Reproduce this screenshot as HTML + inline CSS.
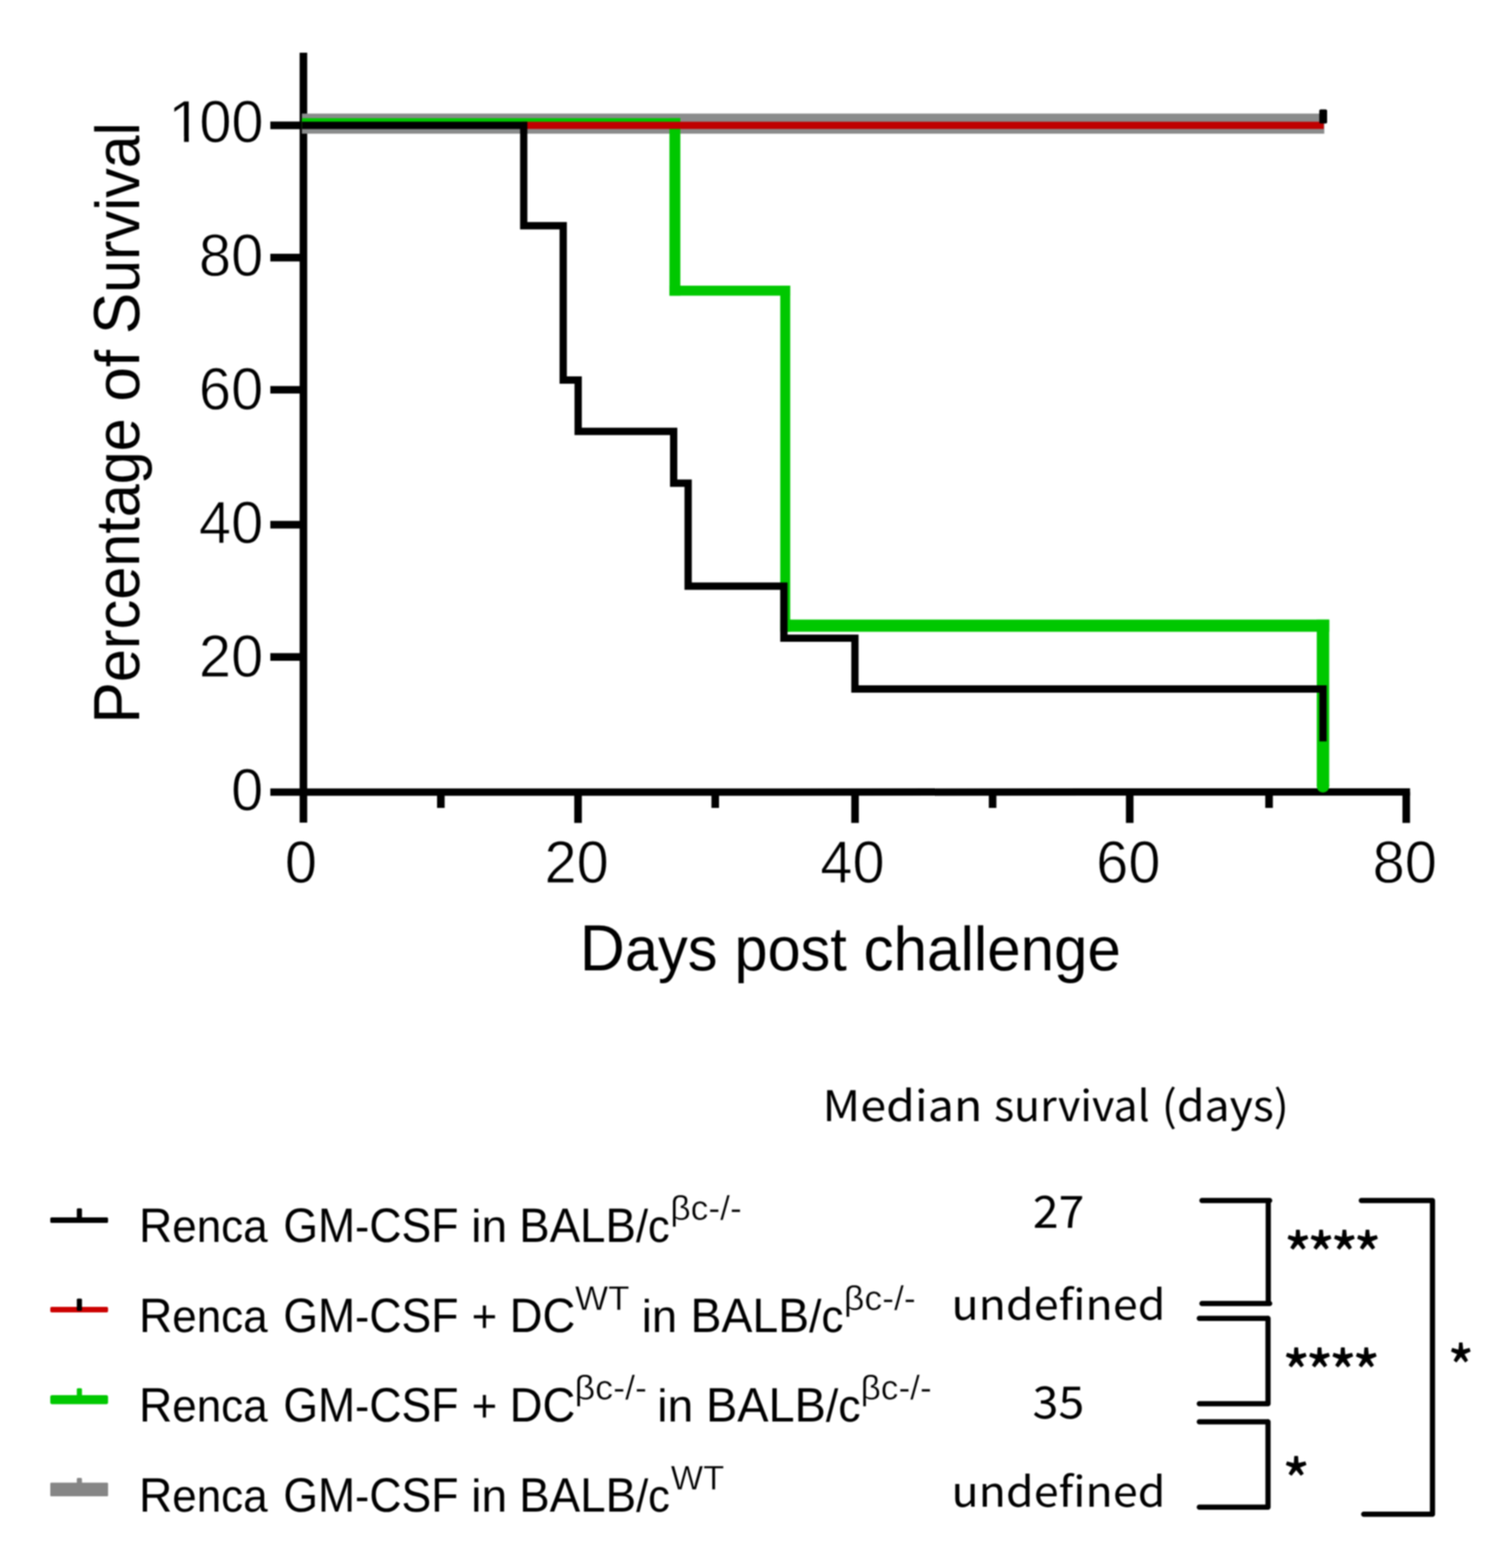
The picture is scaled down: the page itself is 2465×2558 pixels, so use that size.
<!DOCTYPE html>
<html lang="en">
<head>
<meta charset="utf-8">
<title>Kaplan-Meier survival: Renca GM-CSF challenge</title>
<style>
html,body{margin:0;padding:0;background:#fff;}
body{width:2465px;height:2558px;overflow:hidden;font-family:"Liberation Sans",sans-serif;}
svg{display:block;}
.sh{filter:blur(0.8px);}
.tx{filter:blur(1.2px);}
</style>
</head>
<body>
<svg width="2465" height="2558" viewBox="0 0 2465 2558">
<defs><clipPath id="c1"><path d="M-5 -71.56H57.25V-9.54H32.60V5H25.17V-9.54H-5Z"/></clipPath></defs>
<rect width="2465" height="2558" fill="#fff"/>
<g class="sh">
<g fill="none" stroke="#000" stroke-width="12.4"><path d="M495 86V1342"/><path d="M441 1292.3L2300.3 1292.0" stroke-width="12"/><path d="M441 204.5H496"/><path d="M441 420.2H496"/><path d="M441 635.9H496"/><path d="M441 856.0H496"/><path d="M441 1071.8H496"/><path d="M943.0 1292V1342.5"/><path d="M1394.9 1292V1342.5"/><path d="M1843.0 1292V1342.5"/><path d="M2294.1 1292V1342.5"/><path d="M719.2 1292V1318"/><path d="M1166.8 1292V1318"/><path d="M1619.3 1292V1318"/><path d="M2070.3 1292V1318"/></g>
<g>
<rect x="492.5" y="185.3" width="1667.9" height="32.8" fill="#8a8c8c"/>
<rect x="492.5" y="192.75" width="617.4" height="16.3" fill="#00c800"/>
<rect x="1092.10" y="192.8" width="17.8" height="289.5" fill="#00c800"/>
<rect x="1092.1" y="466.05" width="197.0" height="16.3" fill="#00c800"/>
<rect x="1272.85" y="466.1" width="16.3" height="564.5" fill="#00c800"/>
<rect x="1272.9" y="1010.75" width="895.5" height="19.9" fill="#00c800"/>
<rect x="2148.15" y="1010.8" width="20.3" height="272.2" fill="#00c800"/>
<circle cx="2158.3" cy="1282.8" r="10.15" fill="#00c800"/>
<rect x="852" y="198.6" width="1307.6" height="11.8" fill="#c00000"/>
<path d="M492.5 204.5H854.4V368.2H918.8V620H943.2V703.8H1099V788.2H1122.6V956.2H1278.8V1041.1H1394.7V1124H2158.3V1209.4" fill="none" stroke="#000" stroke-width="11.9"/>
<rect x="2152.2" y="178.4" width="12.8" height="23" rx="2.5" fill="#000"/>
</g>
<g><rect x="82.0" y="1985.90" width="94.3" height="9.2" rx="2.2" fill="#000"/><rect x="125.30" y="1971.2" width="8.4" height="20.8" rx="1.8" fill="#000"/><rect x="82.0" y="2132.00" width="94.3" height="9.0" rx="2.2" fill="#cc0000"/><rect x="125.30" y="2118.5" width="8.4" height="20.1" rx="1.8" fill="#000"/><rect x="82.0" y="2276.00" width="94.3" height="14.8" rx="3" fill="#00c800"/><rect x="125.30" y="2264.7" width="8.4" height="15.3" rx="1.8" fill="#00c800"/><rect x="82.0" y="2418.65" width="94.3" height="22.3" rx="1.5" fill="#868686"/><rect x="125.30" y="2411.1" width="8.4" height="10.9" rx="1.8" fill="#868686"/></g>
<g fill="none" stroke="#000" stroke-width="8.5" stroke-linecap="round" stroke-linejoin="round"><path d="M1960.8 1958.6H2071.3M2069.0 1958.6V2126.5M1960.8 2126.5H2071.3"/><path d="M1956.5 2150.8H2068.3M2068.6 2150.8V2290.0M1956.5 2290.0H2068.3"/><path d="M1956.5 2319.6H2068.3M2068.6 2319.6V2458.7M1956.5 2458.7H2068.3"/><path d="M2220.8 1958.6H2336.9M2336.9 1958.6V2470.3M2224.7 2470.3H2336.9"/></g>
</g>
<g class="tx" font-family="'Liberation Sans',sans-serif" fill="#000" text-rendering="geometricPrecision">
<text transform="matrix(1.0396 0 0 1 274.11 231.75)" font-size="97.7" clip-path="url(#c1)" stroke="#fff" stroke-width="1.2">1</text><text transform="matrix(0.9646 0 0 1 325.14 231.75)" font-size="97.7" stroke="#fff" stroke-width="1.2">00</text>
<text transform="matrix(0.9650 0 0 1 324.50 450.15)" font-size="97.7" stroke="#fff" stroke-width="1.2">80</text>
<text transform="matrix(0.9650 0 0 1 324.50 668.05)" font-size="97.7" stroke="#fff" stroke-width="1.2">60</text>
<text transform="matrix(0.9650 0 0 1 324.50 886.15)" font-size="97.7" stroke="#fff" stroke-width="1.2">40</text>
<text transform="matrix(0.9650 0 0 1 324.50 1104.05)" font-size="97.7" stroke="#fff" stroke-width="1.2">20</text>
<text transform="matrix(0.9650 0 0 1 376.93 1321.85)" font-size="97.7" stroke="#fff" stroke-width="1.2">0</text>
<text transform="matrix(0.9650 0 0 1 464.78 1439.60)" font-size="97.7" stroke="#fff" stroke-width="1.2">0</text>
<text transform="matrix(0.9650 0 0 1 888.34 1439.60)" font-size="97.7" stroke="#fff" stroke-width="1.2">20</text>
<text transform="matrix(0.9650 0 0 1 1338.33 1439.60)" font-size="97.7" stroke="#fff" stroke-width="1.2">40</text>
<text transform="matrix(0.9650 0 0 1 1788.31 1439.60)" font-size="97.7" stroke="#fff" stroke-width="1.2">60</text>
<text transform="matrix(0.9650 0 0 1 2239.36 1439.60)" font-size="97.7" stroke="#fff" stroke-width="1.2">80</text>
<text transform="matrix(0.9564 0 0 1 945.84 1583.40)" font-size="101.5"><tspan style="font-size:1.05em">D</tspan>ays</text>
<text transform="matrix(0.9537 0 0 1 1198.34 1583.40)" font-size="101.5">post</text>
<text transform="matrix(0.9659 0 0 1 1408.83 1583.40)" font-size="101.5">challenge</text>
<text transform="matrix(0 -0.9533 1 0 226.60 1180.53)" font-size="101.5"><tspan style="font-size:1.05em">P</tspan>ercentage</text>
<text transform="matrix(0 -0.9996 1 0 226.60 655.36)" font-size="101.5">of</text>
<text transform="matrix(0 -0.9481 1 0 226.60 545.04)" font-size="101.5"><tspan style="font-size:1.05em">S</tspan>urvival</text>
<text transform="matrix(0.9561 0 0 1 226.72 2025.80)" font-size="75"><tspan style="font-size:1.05em">R</tspan>enca</text>
<text transform="matrix(0.9238 0 0 1 462.14 2025.80)" font-size="75"><tspan style="font-size:1.05em">GM</tspan>-<tspan style="font-size:1.05em">CSF</tspan></text>
<text transform="matrix(1.0023 0 0 1 768.87 2025.80)" font-size="75">in</text>
<text transform="matrix(0.9456 0 0 1 846.99 2025.80)" font-size="75"><tspan style="font-size:1.05em">BALB</tspan>/c</text>
<text transform="matrix(1.0302 0 0 1 1093.48 1990.00)" font-size="56.1" stroke="#fff" stroke-width="0.6">βc-/-</text>
<text transform="matrix(0.9561 0 0 1 226.72 2173.10)" font-size="75"><tspan style="font-size:1.05em">R</tspan>enca</text>
<text transform="matrix(0.9238 0 0 1 462.14 2173.10)" font-size="75"><tspan style="font-size:1.05em">GM</tspan>-<tspan style="font-size:1.05em">CSF</tspan></text>
<text transform="matrix(0.9495 0 0 1 769.52 2173.10)" font-size="75">+</text>
<text transform="matrix(0.9414 0 0 1 831.52 2173.10)" font-size="75"><tspan style="font-size:1.05em">DC</tspan></text>
<text transform="matrix(1.0228 0 0 1 937.91 2137.30)" font-size="56.1" stroke="#fff" stroke-width="0.6">WT</text>
<text transform="matrix(0.9838 0 0 1 1047.06 2173.10)" font-size="75">in</text>
<text transform="matrix(0.9604 0 0 1 1126.60 2173.10)" font-size="75"><tspan style="font-size:1.05em">BALB</tspan>/c</text>
<text transform="matrix(1.0331 0 0 1 1376.87 2137.30)" font-size="56.1" stroke="#fff" stroke-width="0.6">βc-/-</text>
<text transform="matrix(0.9561 0 0 1 226.72 2318.60)" font-size="75"><tspan style="font-size:1.05em">R</tspan>enca</text>
<text transform="matrix(0.9238 0 0 1 462.14 2318.60)" font-size="75"><tspan style="font-size:1.05em">GM</tspan>-<tspan style="font-size:1.05em">CSF</tspan></text>
<text transform="matrix(0.9495 0 0 1 769.52 2318.60)" font-size="75">+</text>
<text transform="matrix(0.9414 0 0 1 831.52 2318.60)" font-size="75"><tspan style="font-size:1.05em">DC</tspan></text>
<text transform="matrix(1.0425 0 0 1 937.33 2282.80)" font-size="56.1" stroke="#fff" stroke-width="0.6">βc-/-</text>
<text transform="matrix(1.0044 0 0 1 1072.26 2318.60)" font-size="75">in</text>
<text transform="matrix(0.9715 0 0 1 1151.72 2318.60)" font-size="75"><tspan style="font-size:1.05em">BALB</tspan>/c</text>
<text transform="matrix(1.0218 0 0 1 1404.12 2282.80)" font-size="56.1" stroke="#fff" stroke-width="0.6">βc-/-</text>
<text transform="matrix(0.9561 0 0 1 226.72 2466.00)" font-size="75"><tspan style="font-size:1.05em">R</tspan>enca</text>
<text transform="matrix(0.9238 0 0 1 462.14 2466.00)" font-size="75"><tspan style="font-size:1.05em">GM</tspan>-<tspan style="font-size:1.05em">CSF</tspan></text>
<text transform="matrix(1.0023 0 0 1 768.87 2466.00)" font-size="75">in</text>
<text transform="matrix(0.9468 0 0 1 846.98 2466.00)" font-size="75"><tspan style="font-size:1.05em">BALB</tspan>/c</text>
<text transform="matrix(0.9981 0 0 1 1094.33 2430.20)" font-size="56.1" stroke="#fff" stroke-width="0.6">WT</text>
<text transform="matrix(1.1001 0 0 1 1341.83 1829.20)" font-size="69" font-family="'Noto Sans CJK JP','Liberation Sans',sans-serif">Median</text>
<text transform="matrix(1.0133 0 0 1 1621.63 1829.20)" font-size="69" font-family="'Noto Sans CJK JP','Liberation Sans',sans-serif">survival</text>
<text transform="matrix(1.0554 0 0 1 1895.30 1829.20)" font-size="69" font-family="'Noto Sans CJK JP','Liberation Sans',sans-serif">(days)</text>
<text transform="matrix(1.0402 0 0 1 1685.12 2002.60)" font-size="72.6" font-family="'Noto Sans CJK JP','Liberation Sans',sans-serif">27</text>
<text transform="matrix(1.0750 0 0 1 1552.16 2153.30)" font-size="68" font-family="'Noto Sans CJK JP','Liberation Sans',sans-serif">undefined</text>
<text transform="matrix(1.0445 0 0 1 1684.55 2314.20)" font-size="72.6" font-family="'Noto Sans CJK JP','Liberation Sans',sans-serif">35</text>
<text transform="matrix(1.0750 0 0 1 1552.16 2457.90)" font-size="68" font-family="'Noto Sans CJK JP','Liberation Sans',sans-serif">undefined</text>
<text x="2094.65 2132.51 2170.38 2208.25" y="2084.19" font-size="97.26" font-family="'Noto Sans CJK JP','Liberation Sans',sans-serif" stroke="#000" stroke-width="0.9" stroke-linejoin="round">****</text>
<text x="2091.95 2130.01 2168.08 2206.15" y="2276.29" font-size="97.26" font-family="'Noto Sans CJK JP','Liberation Sans',sans-serif" stroke="#000" stroke-width="0.9" stroke-linejoin="round">****</text>
<text transform="matrix(1.0099 0 0 1 2091.99 2451.56)" font-size="95.72" font-family="'Noto Sans CJK JP','Liberation Sans',sans-serif" stroke="#000" stroke-width="0.9" stroke-linejoin="round">*</text>
<text transform="matrix(0.9448 0 0 1 2361.80 2268.29)" font-size="97.26" font-family="'Noto Sans CJK JP','Liberation Sans',sans-serif" stroke="#000" stroke-width="0.9" stroke-linejoin="round">*</text>
</g>
</svg>
</body>
</html>
